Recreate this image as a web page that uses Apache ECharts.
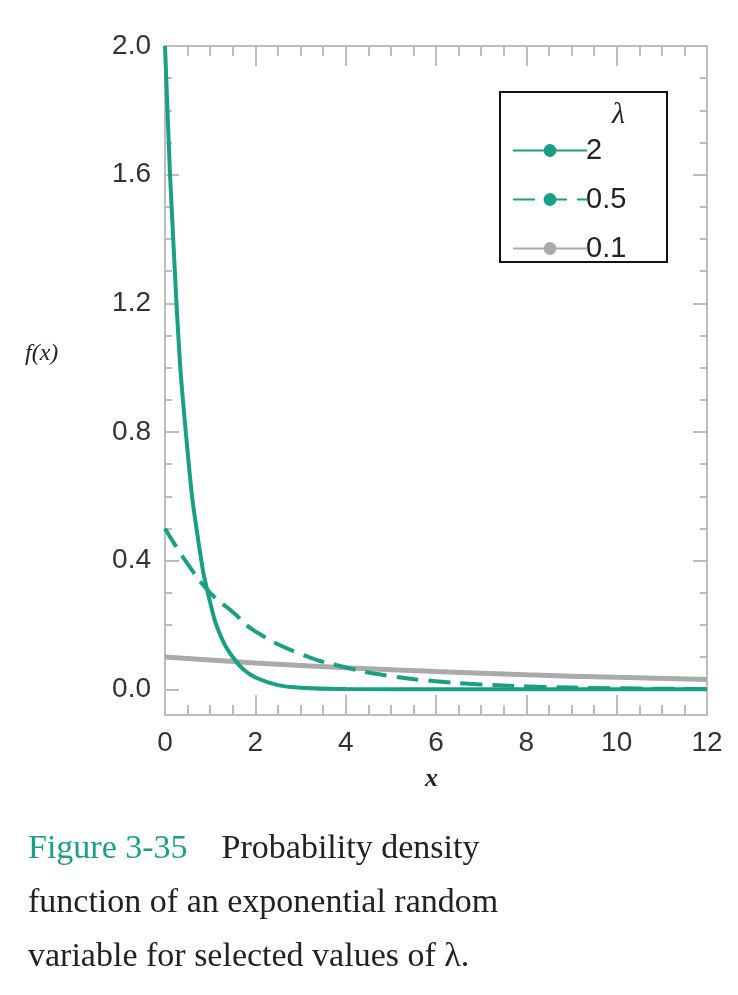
<!DOCTYPE html>
<html><head><meta charset="utf-8">
<script src="https://cdn.jsdelivr.net/npm/echarts@6/dist/echarts.min.js"></script>
<style>html,body{margin:0;padding:0;background:#fff}#c{width:738px;height:995px}</style>
</head><body><div id="c"></div>
<script>
var teal='#1a9f84', grey='#aaaaaa', frame='#bdbdbd';
// x values and f(x)
var x2=[0,0.25,0.5,0.75,1,1.25,1.5,1.75,2,2.5,3,4,6,8,10,12];
var y2=[2.0,1.21,0.74,0.45,0.27,0.16,0.10,0.06,0.037,0.013,0.005,0.001,0,0,0,0];
var x05=[0,0.5,1,1.5,2,3,4,5,6,7,8,10,12];
var y05=[0.5,0.39,0.30,0.24,0.18,0.11,0.068,0.041,0.025,0.015,0.009,0.003,0.001];
var x01=[0,2,4,6,8,10,12];
var y01=[0.1,0.082,0.067,0.055,0.045,0.037,0.03];
var yMajor=[0,0.4,0.8,1.2,1.6,2.0];
var yMinor=[];
for(var i=0;i<=20;i++){yMinor.push(Math.round(i*10)/100);}
function pairs(xs,ys){var out=[];for(var i=0;i<xs.length;i++){out.push([xs[i],ys[i]]);}return out;}

var font='Liberation Sans';
function yAx(pos,labels,vals,len){
    return {type:'value',position:pos,min:-0.08,max:2.0,
        axisLine:{show:true,onZero:false,lineStyle:{color:frame,width:2}},
        splitLine:{show:false},
        axisTick:{show:true,inside:true,length:len,customValues:vals,lineStyle:{color:frame,width:2}},
        axisLabel:{show:labels,customValues:yMajor,color:'#333',fontSize:28,fontFamily:font,margin:14,
            formatter:function(v){return v.toFixed(1);}}};
}
function xAx(pos,labels){
    return {type:'value',position:pos,min:0,max:12,interval:2,
        axisLine:{show:true,onZero:false,lineStyle:{color:frame,width:2}},
        splitLine:{show:false},
        axisTick:{show:true,inside:true,length:20,lineStyle:{color:frame,width:2}},
        minorTick:{show:true,splitNumber:4,length:10,lineStyle:{color:frame,width:2}},
        axisLabel:{show:labels,color:'#333',fontSize:28,fontFamily:font,margin:14}};
}
var chart=echarts.init(document.getElementById('c'));
chart.setOption({
    animation:false,
    grid:{left:165,right:31,top:46,bottom:280},
    xAxis:[xAx('bottom',true),xAx('top',false)],
    yAxis:[yAx('left',true,yMajor,14),yAx('left',false,yMinor,7),yAx('right',false,yMajor,14),yAx('right',false,yMinor,7)],
    legend:{orient:'vertical',left:512,top:136,width:140,itemWidth:74,itemHeight:16,itemGap:20,
        padding:0,
        textStyle:{fontSize:29,fontFamily:font,color:'#222',padding:[0,0,0,-6]},
        data:['2','0.5','0.1']},
    graphic:[
        {type:'rect',shape:{x:500,y:92,width:167,height:170},style:{fill:'none',stroke:'#111',lineWidth:2}},
        {type:'text',left:612,top:100,style:{text:'λ',fontSize:30,fontFamily:'Liberation Serif',fontStyle:'italic',fill:'#222'}},
        {type:'text',left:25,top:342,style:{text:'f(x)',fontSize:24,fontFamily:'Liberation Serif',fontStyle:'italic',fill:'#222'}},
        {type:'text',left:425,top:766,style:{text:'x',fontSize:26,fontFamily:'Liberation Serif',fontStyle:'italic',fontWeight:'bold',fill:'#222'}},
        {type:'text',left:28,top:832,style:{rich:{a:{fill:teal,fontSize:34,fontFamily:'Liberation Serif'},b:{fill:'#222',fontSize:34,fontFamily:'Liberation Serif'}},
            text:'{a|Figure 3-35}{b|    Probability density}',fill:'#222',fontSize:34,fontFamily:'Liberation Serif'}},
        {type:'text',left:28,top:886,style:{text:'function of an exponential random',fill:'#222',fontSize:34,fontFamily:'Liberation Serif'}},
        {type:'text',left:28,top:940,style:{text:'variable for selected values of λ.',fill:'#222',fontSize:34,fontFamily:'Liberation Serif'}}
    ],
    series:[
        {name:'0.1',type:'line',data:pairs(x01,y01),smooth:true,symbol:'none',
            lineStyle:{color:grey,width:5},itemStyle:{color:grey}},
        {name:'0.5',type:'line',data:pairs(x05,y05),smooth:true,symbol:'none',
            lineStyle:{color:teal,width:4,type:[22,10]},itemStyle:{color:teal}},
        {name:'2',type:'line',data:pairs(x2,y2),smooth:true,symbol:'none',
            lineStyle:{color:teal,width:4},itemStyle:{color:teal}}
    ]
});
</script></body></html>
